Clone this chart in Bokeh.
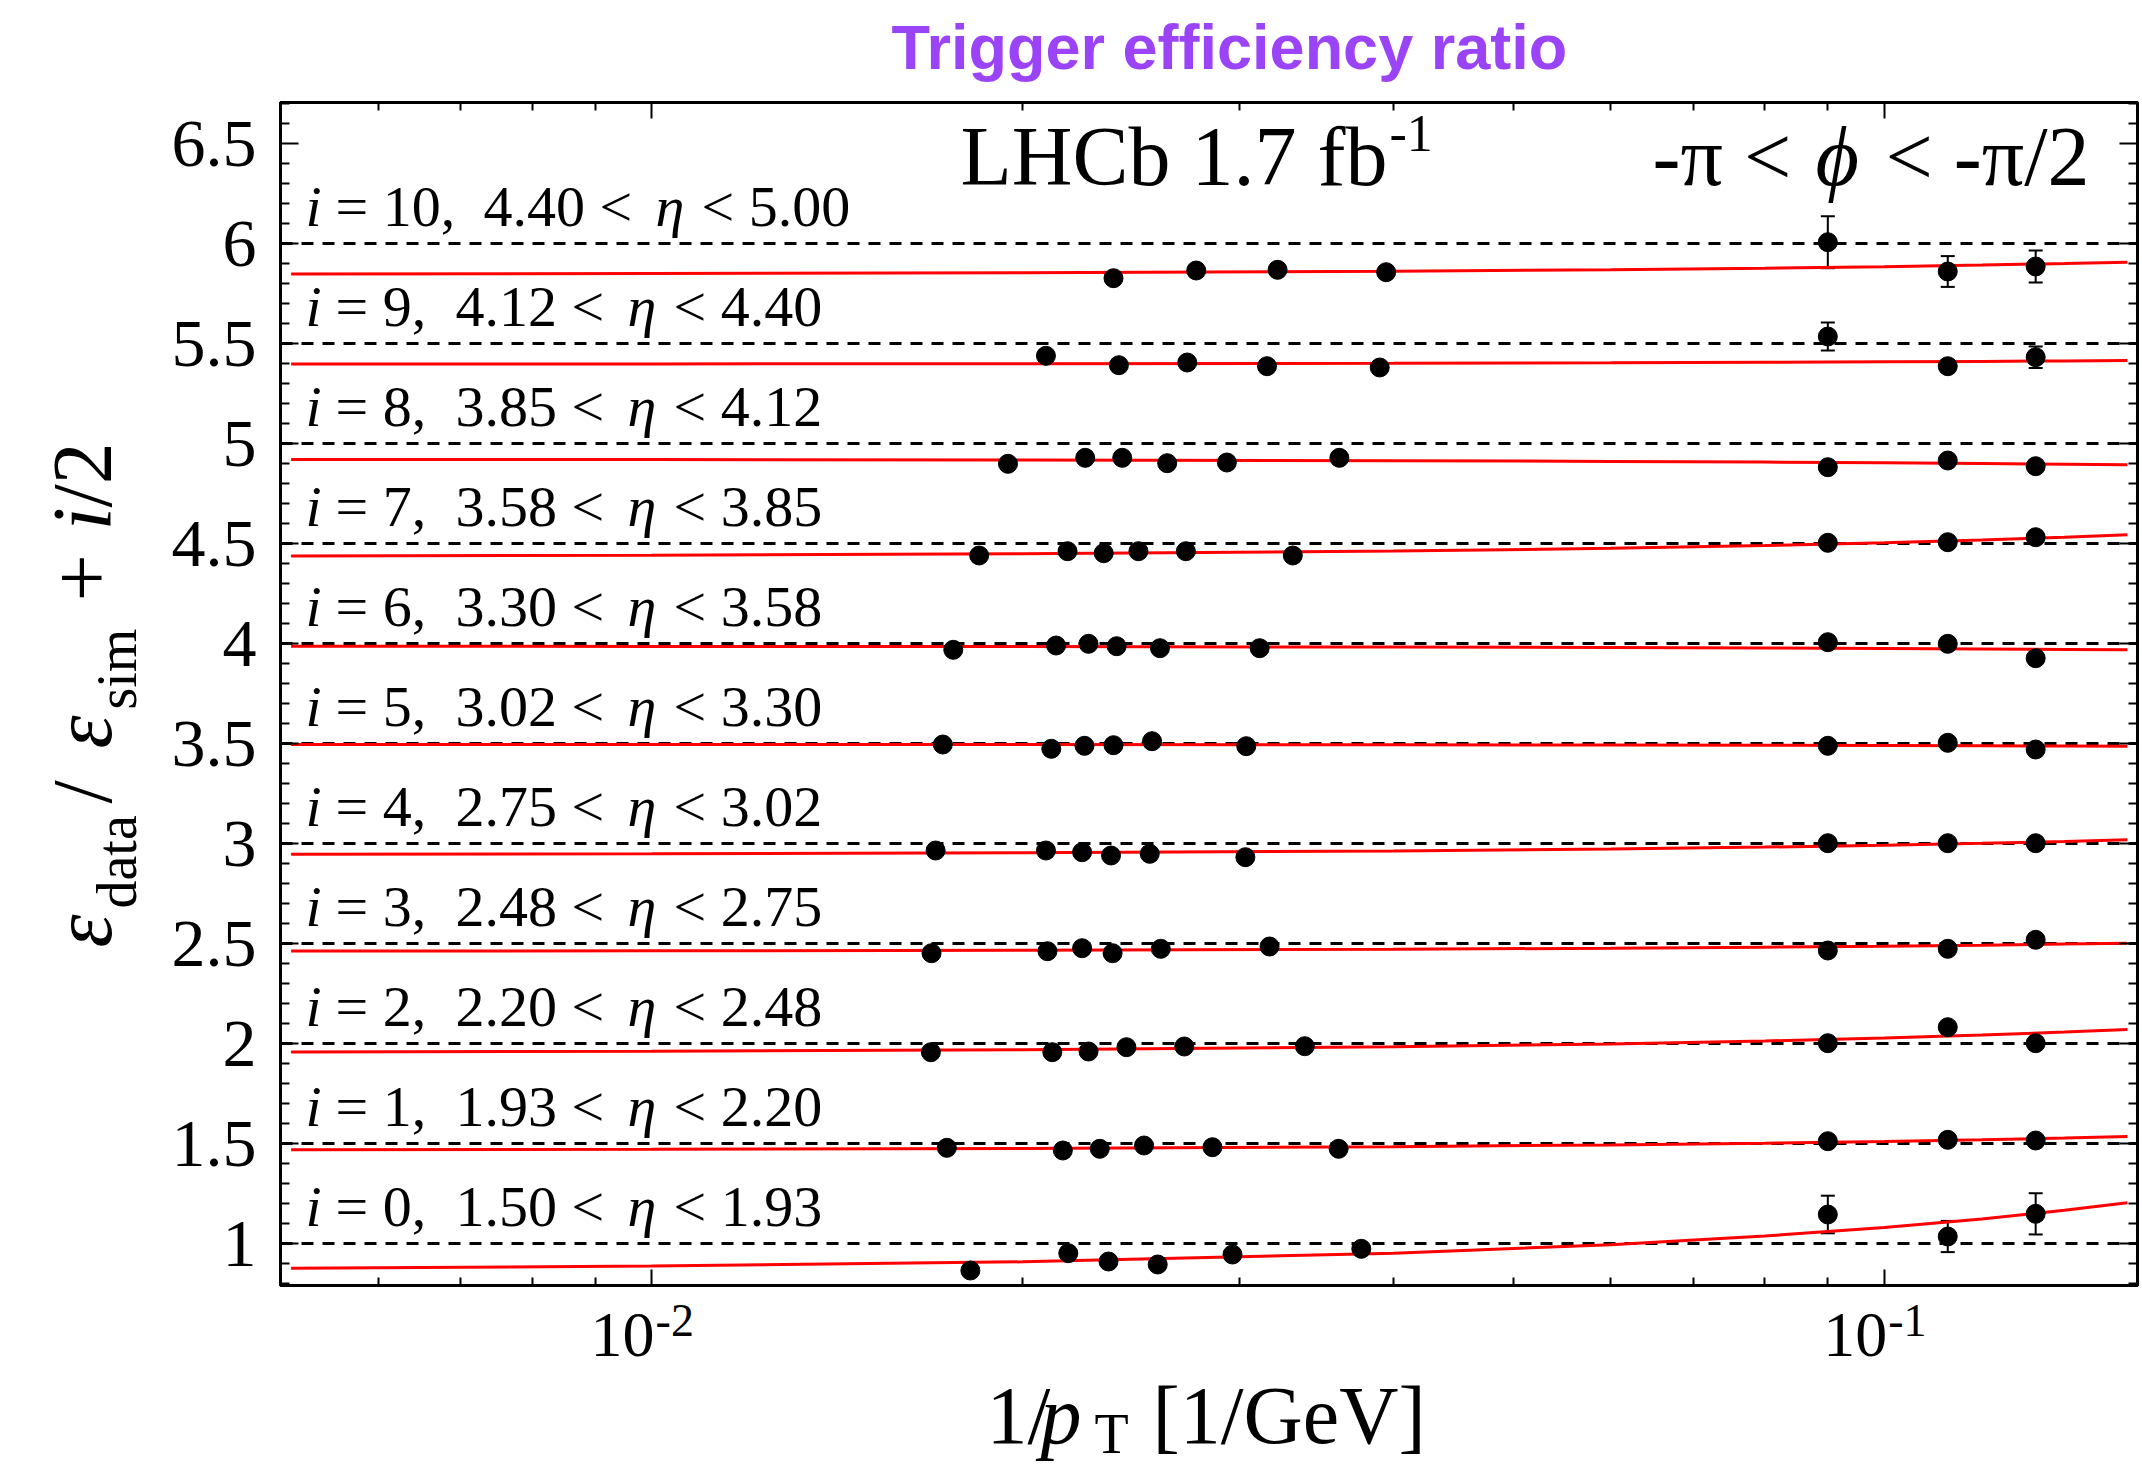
import math
from bokeh.plotting import figure
from bokeh.layouts import column, row
from bokeh.models import (Range1d, FixedTicker, LogAxis, LinearAxis, Span,
                          ColumnDataSource, Whisker, TeeHead, CustomJSTickFormatter)
from bokeh.core.properties import value
from bokeh.embed import file_html
from bokeh.resources import INLINE

# ---------------- data ----------------
eta_edges = [1.50, 1.93, 2.20, 2.48, 2.75, 3.02, 3.30, 3.58, 3.85, 4.12, 4.40, 5.00]

# 1/pT positions [1/GeV], ratio eps_data/eps_sim and its uncertainty, per eta bin i
x_i0 = [0.01814, 0.02178, 0.02348, 0.02574, 0.0296, 0.03765, 0.09, 0.1126, 0.1327]
r_i0 = [0.865, 0.9515, 0.91, 0.895, 0.945, 0.9735, 1.145, 1.035, 1.1485]
e_i0 = [0.01, 0.01, 0.01, 0.01, 0.01, 0.01, 0.094, 0.078, 0.103]

x_i1 = [0.01736, 0.02156, 0.0231, 0.02509, 0.02851, 0.03609, 0.09, 0.1126, 0.1327]
r_i1 = [0.9785, 0.965, 0.9735, 0.99, 0.9815, 0.9735, 1.0115, 1.0185, 1.015]
e_i1 = [0.01, 0.01, 0.01, 0.01, 0.01, 0.01, 0.02, 0.02, 0.02]

x_i2 = [0.01685, 0.02114, 0.02262, 0.02428, 0.02705, 0.03388, 0.09, 0.1126, 0.1327]
r_i2 = [0.9565, 0.9565, 0.96, 0.9815, 0.985, 0.9865, 1.0015, 1.0815, 1.0015]
e_i2 = [0.01, 0.01, 0.01, 0.01, 0.01, 0.01, 0.02, 0.02, 0.02]

x_i3 = [0.01687, 0.02095, 0.02235, 0.02366, 0.02589, 0.03172, 0.09, 0.1126, 0.1327]
r_i3 = [0.9515, 0.9615, 0.9765, 0.9515, 0.9735, 0.985, 0.965, 0.9735, 1.0185]
e_i3 = [0.01, 0.01, 0.01, 0.01, 0.01, 0.01, 0.02, 0.02, 0.02]

x_i4 = [0.017, 0.02089, 0.02235, 0.02359, 0.02536, 0.03032, 0.09, 0.1126, 0.1327]
r_i4 = [0.965, 0.965, 0.9565, 0.94, 0.9485, 0.9315, 1.0015, 1.0015, 1.0015]
e_i4 = [0.01, 0.01, 0.01, 0.01, 0.01, 0.01, 0.02, 0.02, 0.02]

x_i5 = [0.01723, 0.0211, 0.02245, 0.0237, 0.02547, 0.03037, 0.09, 0.1126, 0.1327]
r_i5 = [0.995, 0.9735, 0.9885, 0.9915, 1.0115, 0.9865, 0.9885, 1.0035, 0.97]
e_i5 = [0.01, 0.01, 0.01, 0.01, 0.01, 0.01, 0.02, 0.02, 0.02]

x_i6 = [0.01757, 0.02129, 0.02262, 0.02384, 0.02585, 0.03114, 0.09, 0.1126, 0.1327]
r_i6 = [0.9685, 0.99, 0.9985, 0.9865, 0.9765, 0.9765, 1.0065, 0.9985, 0.9265]
e_i6 = [0.01, 0.01, 0.01, 0.01, 0.01, 0.01, 0.02, 0.02, 0.02]

x_i7 = [0.01844, 0.02175, 0.02327, 0.02483, 0.02713, 0.03313, 0.09, 0.1126, 0.1327]
r_i7 = [0.94, 0.9615, 0.9515, 0.9615, 0.9615, 0.94, 1.0035, 1.0065, 1.0315]
e_i7 = [0.01, 0.01, 0.01, 0.01, 0.01, 0.01, 0.02, 0.02, 0.02]

x_i8 = [0.01946, 0.02248, 0.02409, 0.0262, 0.02929, 0.03614, 0.09, 0.1126, 0.1327]
r_i8 = [0.8985, 0.9285, 0.9285, 0.9015, 0.905, 0.9285, 0.8815, 0.915, 0.8865]
e_i8 = [0.01, 0.01, 0.01, 0.01, 0.01, 0.01, 0.02, 0.02, 0.02]

x_i9 = [0.02089, 0.02394, 0.0272, 0.03157, 0.03897, 0.09, 0.1126, 0.1327]
r_i9 = [0.9385, 0.8915, 0.905, 0.8865, 0.88, 1.035, 0.8865, 0.9315]
e_i9 = [0.01, 0.01, 0.01, 0.01, 0.01, 0.07, 0.03, 0.054]

x_i10 = [0.0237, 0.02766, 0.0322, 0.03944, 0.09, 0.1126, 0.1327]
r_i10 = [0.8265, 0.865, 0.8685, 0.8565, 1.0065, 0.86, 0.885]
e_i10 = [0.01, 0.01, 0.01, 0.01, 0.13, 0.077, 0.08]

# fitted curves (red), read at these 1/pT values
fit_x = [0.0051, 0.01, 0.02, 0.04, 0.06, 0.08, 0.10, 0.12, 0.14, 0.1575]
fit_i0 = [0.8765, 0.8871, 0.9085, 0.9514, 0.9943, 1.0372, 1.0801, 1.1230, 1.1659, 1.2034]
fit_i1 = [0.9691, 0.9712, 0.9756, 0.9842, 0.9929, 1.0015, 1.0102, 1.0188, 1.0275, 1.0350]
fit_i2 = [0.9575, 0.9611, 0.9685, 0.9832, 0.9980, 1.0127, 1.0275, 1.0423, 1.0570, 1.0699]
fit_i3 = [0.9623, 0.9636, 0.9661, 0.9713, 0.9764, 0.9816, 0.9867, 0.9918, 0.9970, 1.0015]
fit_i4 = [0.9467, 0.9490, 0.9537, 0.9631, 0.9726, 0.9820, 0.9914, 1.0008, 1.0102, 1.0185]
fit_i5 = [0.9956, 0.9953, 0.9947, 0.9935, 0.9923, 0.9911, 0.9899, 0.9887, 0.9875, 0.9865]
fit_i6 = [0.9862, 0.9856, 0.9845, 0.9822, 0.9798, 0.9775, 0.9752, 0.9729, 0.9706, 0.9685]
fit_i7 = [0.9379, 0.9413, 0.9483, 0.9621, 0.9760, 0.9898, 1.0037, 1.0176, 1.0314, 1.0435]
fit_i8 = [0.9203, 0.9194, 0.9177, 0.9142, 0.9106, 0.9071, 0.9036, 0.9001, 0.8966, 0.8935]
fit_i9 = [0.8973, 0.8979, 0.8990, 0.9013, 0.9037, 0.9060, 0.9083, 0.9106, 0.9129, 0.9150]
fit_i10 = [0.8476, 0.8495, 0.8533, 0.8611, 0.8688, 0.8766, 0.8843, 0.8920, 0.8998, 0.9066]

y_major = [1.0, 1.5, 2.0, 2.5, 3.0, 3.5, 4.0, 4.5, 5.0, 5.5, 6.0, 6.5]
x_major = [0.01, 0.1]
x_major_exp = ["-2", "-1"]
x_minor = [0.006, 0.007, 0.008, 0.009, 0.02, 0.03, 0.04, 0.05, 0.06, 0.07, 0.08, 0.09]

xs = [x_i0, x_i1, x_i2, x_i3, x_i4, x_i5, x_i6, x_i7, x_i8, x_i9, x_i10]
rs = [r_i0, r_i1, r_i2, r_i3, r_i4, r_i5, r_i6, r_i7, r_i8, r_i9, r_i10]
es = [e_i0, e_i1, e_i2, e_i3, e_i4, e_i5, e_i6, e_i7, e_i8, e_i9, e_i10]
fits = [fit_i0, fit_i1, fit_i2, fit_i3, fit_i4, fit_i5, fit_i6, fit_i7, fit_i8, fit_i9, fit_i10]

# ---------------- layout ----------------
W, H = 2142, 1464
X_MIN, X_MAX = 0.005, 0.1605
Y_MIN, Y_MAX = 0.79, 6.705
FL, FT, FW, FH = 280, 102, 1857, 1183     # plot frame in page pixels
FRB = W - FL - FW                         # right border
LEFT_W = 160                              # width of the y-title strip
PAD = 5                                   # border kept around the frame line
TOP_H = FT - PAD
MAIN_H = FH + 2 * PAD
BOT_H = H - TOP_H - MAIN_H
PX_PER_UNIT = FH / (Y_MAX - Y_MIN)
BASE = 0.37                               # anchor-to-baseline distance, in em
SERIF = "Liberation Serif"

shared_x = Range1d(X_MIN, X_MAX)


def bare(fig):
    fig.background_fill_color = "white"
    fig.border_fill_color = "white"
    fig.outline_line_color = None
    fig.grid.visible = False
    return fig


def _text(fig, x, y, s, size, style, font, color, align, angle, x_offset):
    fig.text(x=[x], y=[y], text=[s], text_font=value(font),
             text_font_size=value(f"{size}px"), text_font_style=style,
             text_color=color, text_align=align, text_baseline="alphabetic",
             angle=angle, x_offset=x_offset)


def txt_page(fig, x, y, s, size, style="normal", font=SERIF, color="black",
             align="left", x_offset=0, rotated=False):
    """(x, y) = baseline start in page pixels (y downwards)."""
    if rotated:
        _text(fig, x - BASE * size, y, s, size, style, font, color, align,
              math.pi / 2, x_offset)
    else:
        _text(fig, x, y - BASE * size, s, size, style, font, color, align, 0.0, x_offset)


def txt_main(fig, y_val, s, size, style="normal", x_offset=0):
    """baseline at data value y_val, x given as offset from the frame's left edge."""
    _text(fig, X_MIN, y_val + BASE * size / PX_PER_UNIT, s, size, style, SERIF,
          "black", "left", 0.0, x_offset)


# ---- main plot ----
p = figure(width=W - LEFT_W, height=MAIN_H, x_axis_type="log",
           x_range=shared_x, y_range=Range1d(Y_MIN, Y_MAX),
           min_border_left=FL - LEFT_W, min_border_top=PAD,
           min_border_right=FRB, min_border_bottom=PAD,
           output_backend="svg", toolbar_location=None)
p.background_fill_color = "white"
p.border_fill_color = "white"
p.outline_line_color = "black"
p.outline_line_width = 3
p.xgrid.visible = False
p.ygrid.visible = False

x_ticker = FixedTicker(ticks=x_major, minor_ticks=x_minor)
y_minor = [round(0.8 + 0.1 * k, 1) for k in range(60)]
y_minor = [v for v in y_minor if v not in y_major and v <= 6.7]
y_ticker = FixedTicker(ticks=y_major, minor_ticks=y_minor)


def style_axis(ax, tin, mtin):
    ax.axis_line_width = 3
    ax.axis_line_color = "black"
    ax.major_tick_in = tin
    ax.major_tick_out = 0
    ax.minor_tick_in = mtin
    ax.minor_tick_out = 0
    ax.major_tick_line_width = 2
    ax.minor_tick_line_width = 2
    ax.major_tick_line_color = "black"
    ax.minor_tick_line_color = "black"


xb = p.xaxis[0]
xb.ticker = x_ticker
xb.formatter = CustomJSTickFormatter(code="return '';")
xb.major_label_standoff = 0
style_axis(xb, 16, 8)

yl = p.yaxis[0]
yl.ticker = y_ticker
yl.formatter = CustomJSTickFormatter(code="return tick.toString();")
yl.major_label_text_font = SERIF
yl.major_label_text_font_size = "68px"
yl.major_label_text_color = "black"
yl.major_label_standoff = 24
style_axis(yl, 18, 9)

xt = LogAxis(ticker=x_ticker, formatter=CustomJSTickFormatter(code="return '';"),
             major_label_standoff=0)
style_axis(xt, 16, 8)
p.add_layout(xt, "above")
yr = LinearAxis(ticker=y_ticker, formatter=CustomJSTickFormatter(code="return '';"),
                major_label_standoff=0)
style_axis(yr, 18, 9)
p.add_layout(yr, "right")

# reference lines at 1 + i/2
for i in range(len(xs)):
    p.add_layout(Span(location=1 + i / 2, dimension="width", line_color="black",
                      line_width=2.8, line_dash="12 9", level="underlay"))

# fitted curves
for i, fv in enumerate(fits):
    p.line(fit_x, [v + i / 2 for v in fv], line_color="#FF0000", line_width=3)

# data points with error bars
for i in range(len(xs)):
    y = [v + i / 2 for v in rs[i]]
    src = ColumnDataSource(dict(x=xs[i], y=y,
                                upper=[a + b for a, b in zip(y, es[i])],
                                lower=[a - b for a, b in zip(y, es[i])]))
    p.add_layout(Whisker(source=src, base="x", upper="upper", lower="lower",
                         line_color="black", line_width=2,
                         upper_head=TeeHead(size=14, line_width=2, line_color="black"),
                         lower_head=TeeHead(size=14, line_width=2, line_color="black")))
    p.scatter("x", "y", source=src, size=19, fill_color="black", line_color="black")

# bin labels: "i = k,  lo < eta < hi"
for i in range(len(xs)):
    shift = 0 if i >= 10 else -28
    yb = 1 + i / 2 + 0.08
    txt_main(p, yb, "i", 58, "italic", x_offset=25)
    txt_main(p, yb, f"= {i},", 58, x_offset=25 + 30)
    txt_main(p, yb, f"{eta_edges[i]:.2f} <", 58, x_offset=25 + 178 + shift)
    txt_main(p, yb, "η", 58, "italic", x_offset=25 + 350 + shift)
    txt_main(p, yb, f"< {eta_edges[i + 1]:.2f}", 58, x_offset=25 + 396 + shift)

# experiment / phi text
y_txt = Y_MAX - (187 - FT) / PX_PER_UNIT
y_sup = Y_MAX - (152 - FT) / PX_PER_UNIT
txt_main(p, y_txt, "LHCb 1.7 fb", 84, x_offset=960 - FL)
txt_main(p, y_sup, "-1", 52, x_offset=1389 - FL)
txt_main(p, y_txt, "-π <", 84, x_offset=1652 - FL)
txt_main(p, y_txt, "ϕ", 84, "italic", x_offset=1815 - FL)
txt_main(p, y_txt, "< -π/2", 84, x_offset=1885 - FL)

# ---- top strip: title (frame aligned with the main frame, page-pixel x) ----
top = bare(figure(width=W, height=TOP_H, x_range=Range1d(FL, FL + FW),
                  y_range=Range1d(TOP_H, 0),
                  x_axis_location=None, y_axis_location=None,
                  min_border_left=FL, min_border_right=FRB,
                  min_border_top=0, min_border_bottom=0,
                  output_backend="svg", toolbar_location=None))
txt_page(top, 891, 70, "Trigger efficiency ratio", 63, "bold",
         font="Liberation Sans", color="#9B44F7")

# ---- left strip: y-axis title (page pixel coordinates) ----
left = bare(figure(width=LEFT_W, height=MAIN_H, x_range=Range1d(0, LEFT_W),
                   y_range=Range1d(FT + FH, FT),
                   x_axis_location=None, y_axis_location=None,
                   min_border_left=0, min_border_right=0,
                   min_border_top=PAD, min_border_bottom=PAD,
                   output_backend="svg", toolbar_location=None))
XM, XS = 113, 137
for s, ypx, st, sz, xb_ in [("ε", 947, "italic", 84, XM),
                            ("data", 908, "normal", 56, XS),
                            ("/", 803, "normal", 84, XM),
                            ("ε", 748, "italic", 84, XM),
                            ("sim", 709, "normal", 56, XS),
                            ("+", 601, "normal", 84, XM),
                            ("i", 530, "italic", 84, XM),
                            ("/2", 507, "normal", 84, XM)]:
    txt_page(left, xb_, ypx, s, sz, st, rotated=True)

# ---- bottom strip: x tick labels and x-axis title ----
bot = bare(figure(width=W, height=BOT_H, x_axis_type="log", x_range=shared_x,
                  y_range=Range1d(H, H - BOT_H),
                  x_axis_location=None, y_axis_location=None,
                  min_border_left=FL, min_border_right=FRB,
                  min_border_top=0, min_border_bottom=0,
                  output_backend="svg", toolbar_location=None))
for t, ex in zip(x_major, x_major_exp):
    txt_page(bot, t, 1358, "10", 64, align="right", x_offset=3)
    txt_page(bot, t, 1337, ex, 46, align="left", x_offset=4)
txt_page(bot, X_MIN, 1445, "1/", 82, x_offset=986 - FL)
txt_page(bot, X_MIN, 1445, "p", 82, "italic", x_offset=1040 - FL)
txt_page(bot, X_MIN, 1454, "T", 56, x_offset=1094 - FL)
txt_page(bot, X_MIN, 1445, "[1/GeV]", 82, x_offset=1152 - FL)

layout = column(top, row(left, p), bot)
open("out.html", "w").write(file_html(layout, INLINE))
